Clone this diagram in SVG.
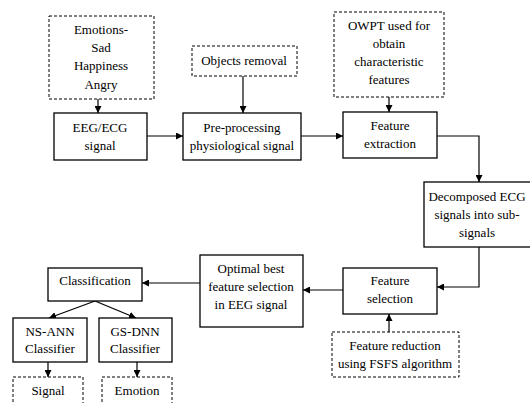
<svg xmlns="http://www.w3.org/2000/svg" width="530" height="403" viewBox="0 0 530 403">
<style>
.b{fill:#fff;stroke:#000;stroke-width:1.3}
.d{fill:#fff;stroke:#000;stroke-width:1;stroke-dasharray:3,2}
text{font-family:"Liberation Serif","Tinos","Times New Roman","DejaVu Serif",serif;font-size:13px;fill:#000;text-anchor:middle}
.c{fill:none;stroke:#000;stroke-width:1.2}
</style>
<defs>
<marker id="a" viewBox="0 0 10 10" refX="10" refY="5" markerWidth="7" markerHeight="7" orient="auto" markerUnits="userSpaceOnUse"><path d="M0,0L10,5L0,10z" fill="#000"/></marker>
</defs>
<rect width="530" height="403" fill="#fff"/>
<g id="connectors">
<path class="c" d="M98,99V113" marker-end="url(#a)"/>
<path class="c" d="M147,136H183" marker-end="url(#a)"/>
<path class="c" d="M243,76V113" marker-end="url(#a)"/>
<path class="c" d="M301,136H343" marker-end="url(#a)"/>
<path class="c" d="M389,97V112" marker-end="url(#a)"/>
<path class="c" d="M437,136H479V182" marker-end="url(#a)"/>
<path class="c" d="M479,247V287H437" marker-end="url(#a)"/>
<path class="c" d="M343,290H303" marker-end="url(#a)"/>
<path class="c" d="M389,332V314" marker-end="url(#a)"/>
<path class="c" d="M200,283H142" marker-end="url(#a)"/>
<path class="c" d="M95,301L49,318" marker-end="url(#a)"/>
<path class="c" d="M95,301L136,318" marker-end="url(#a)"/>
<path class="c" d="M48,362V377" marker-end="url(#a)"/>
<path class="c" d="M137,362V377" marker-end="url(#a)"/>
</g>
<g id="emotions"><rect class="d" x="49" y="16" width="105" height="83"/>
<text x="101" y="34">Emotions-</text><text x="101" y="52">Sad</text><text x="101" y="70">Happiness</text><text x="101" y="89">Angry</text></g>
<g id="eeg"><rect class="b" x="54" y="113" width="93" height="47"/>
<text x="100" y="132">EEG/ECG</text><text x="100" y="150">signal</text></g>
<g id="objects"><rect class="d" x="192" y="46" width="105" height="30"/>
<text x="244" y="65">Objects removal</text></g>
<g id="preproc"><rect class="b" x="183" y="113" width="118" height="47"/>
<text x="242" y="132">Pre-processing</text><text x="242" y="150">physiological signal</text></g>
<g id="owpt"><rect class="d" x="334" y="12" width="110" height="85"/>
<text x="389" y="30">OWPT used for</text><text x="389" y="48">obtain</text><text x="389" y="66">characteristic</text><text x="389" y="84">features</text></g>
<g id="fext"><rect class="b" x="343" y="112" width="94" height="46"/>
<text x="390" y="130">Feature</text><text x="390" y="148">extraction</text></g>
<g id="decomp"><rect class="b" x="424" y="182" width="108" height="65"/>
<text x="477" y="201">Decomposed ECG</text><text x="477" y="219">signals into sub-</text><text x="477" y="237">signals</text></g>
<g id="fsel"><rect class="b" x="343" y="268" width="94" height="46"/>
<text x="390" y="285">Feature</text><text x="390" y="303">selection</text></g>
<g id="fred"><rect class="d" x="332" y="332" width="127" height="45"/>
<text x="395" y="350">Feature reduction</text><text x="395" y="368">using FSFS algorithm</text></g>
<g id="optimal"><rect class="b" x="200" y="255" width="103" height="72"/>
<text x="251" y="273">Optimal best</text><text x="251" y="291">feature selection</text><text x="251" y="309">in EEG signal</text></g>
<g id="classification"><rect class="b" x="48" y="268" width="94" height="33"/>
<text x="95" y="285">Classification</text></g>
<g id="nsann"><rect class="b" x="13" y="318" width="74" height="44"/>
<text x="50" y="336">NS-ANN</text><text x="50" y="353">Classifier</text></g>
<g id="gsdnn"><rect class="b" x="99" y="318" width="73" height="44"/>
<text x="135" y="336">GS-DNN</text><text x="135" y="353">Classifier</text></g>
<g id="signal"><rect class="d" x="13" y="377" width="70" height="35"/>
<text x="48" y="395">Signal</text></g>
<g id="emotion"><rect class="d" x="102" y="377" width="70" height="35"/>
<text x="137" y="395">Emotion</text></g>
</svg>
